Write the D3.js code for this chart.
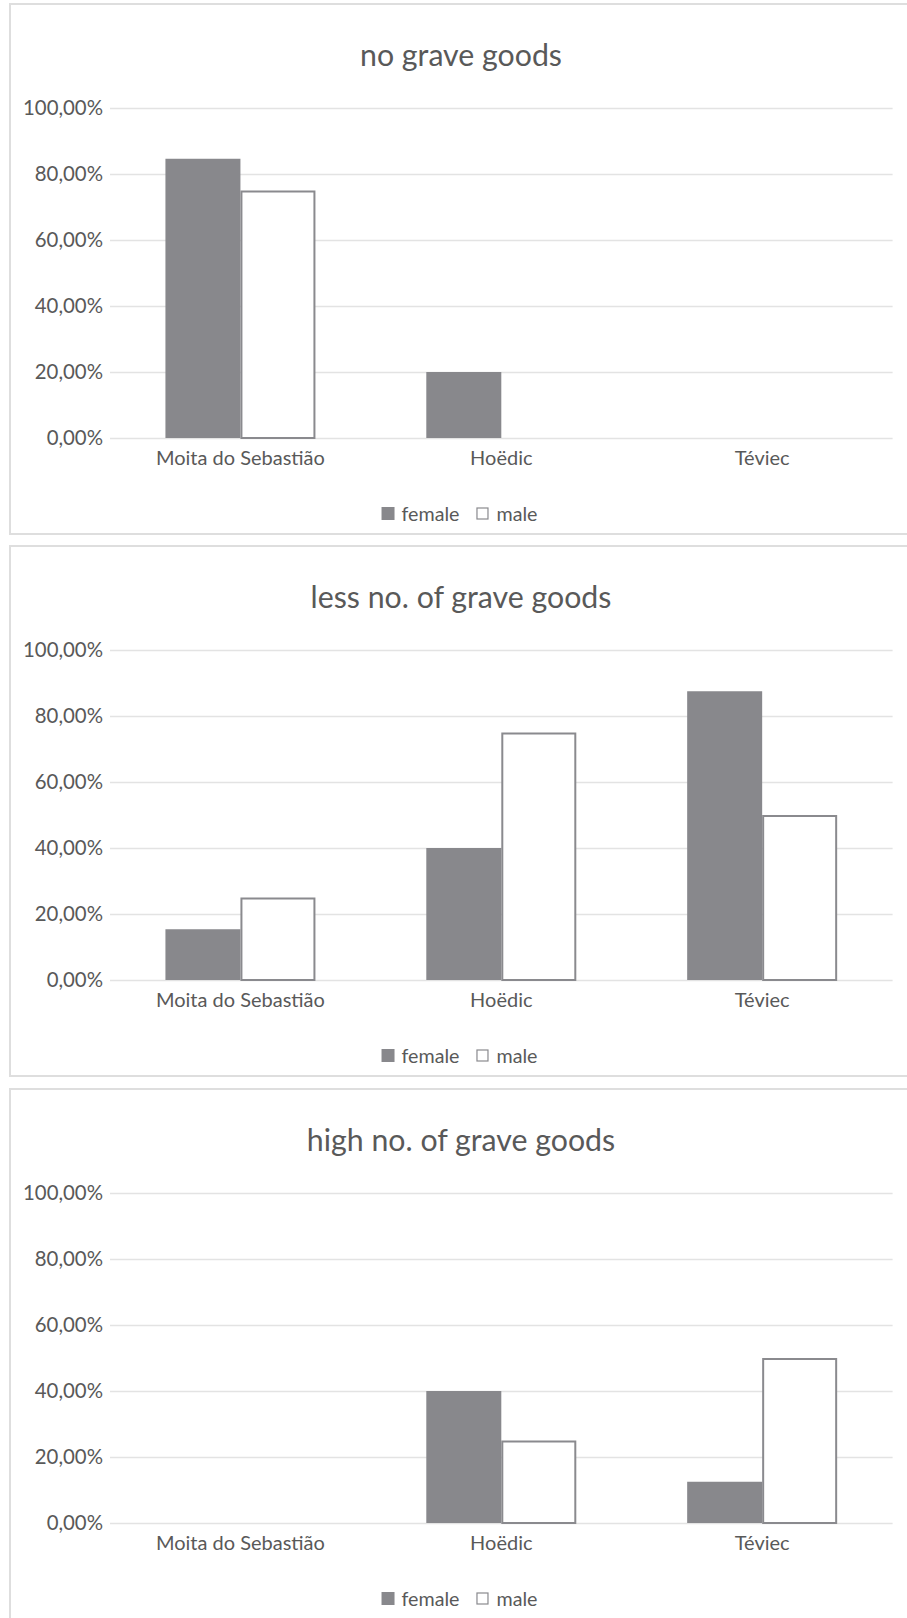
<!DOCTYPE html>
<html>
<head>
<meta charset="utf-8">
<script src="https://cdn.jsdelivr.net/npm/d3@7"></script>
<style>
  html, body { margin: 0; padding: 0; background: #fff; }
  svg { display: block; }
  text { font-family: Lato, "Open Sans", sans-serif; fill: #595959; }
</style>
</head>
<body>
<svg id="chart" width="907" height="1618"></svg>
<script>
// ---- data ----
const categories = ["Moita do Sebastião", "Hoëdic", "Téviec"];
const seriesNames = ["female", "male"];
const panelTitles = ["no grave goods", "less no. of grave goods", "high no. of grave goods"];
const femaleValues = [
  [84.62, 20, 0],
  [15.38, 40, 87.5],
  [0, 40, 12.5]
];
const maleValues = [
  [75, 0, 0],
  [25, 75, 50],
  [0, 25, 50]
];
const yTicks = [0, 20, 40, 60, 80, 100];

// ---- style / layout ----
const femaleFill = "#88888c";
const maleStroke = "#8a8a8e";
const gridColor = "#e3e3e3";
const panelTops = [4, 546, 1089];
const panelH = 530;
const plotLeft = 110, plotRight = 892.6;

const svg = d3.select("#chart");

// measure helper to size fonts by target widths
const meas = svg.append("text").attr("x", -1000).attr("y", -1000);
function fitSize(str, target, base = 20) {
  meas.attr("font-size", base).text(str);
  const w = meas.node().getComputedTextLength();
  return base * target / w;
}
const titleSize = fitSize("no grave goods", 202);
const tickSize = fitSize("100,00%", 80);
const catSize = fitSize("Moita do Sebastião", 169);
const legSize = fitSize("female", 58);
meas.remove();

const x0 = d3.scaleBand().domain(categories).range([plotLeft, plotRight])
  .paddingInner(0.425).paddingOuter(0.2125);
const x1 = d3.scaleBand().domain(seriesNames).range([0, x0.bandwidth()]);
const fmt = v => v.toFixed(2).replace(".", ",") + "%";

panelTitles.forEach((title, i) => {
  const top = panelTops[i];
  const g = svg.append("g");
  // panel border
  g.append("rect").attr("x", 10).attr("y", top).attr("width", 905).attr("height", panelH)
    .attr("fill", "#fff").attr("stroke", "#dedede").attr("stroke-width", 2);

  // title
  g.append("text").attr("x", 461).attr("y", top + 49.5)
    .attr("text-anchor", "middle").attr("dominant-baseline", "central")
    .attr("font-size", titleSize).text(title);

  const y = d3.scaleLinear().domain([0, 100]).range([top + 434, top + 104]);

  // y axis
  const yAxis = d3.axisLeft(y).tickValues(yTicks).tickFormat(fmt)
    .tickSize(-(plotRight - plotLeft)).tickPadding(7);
  const ya = g.append("g").attr("transform", `translate(${plotLeft},0)`).call(yAxis);
  ya.select(".domain").remove();
  ya.selectAll(".tick line").attr("stroke", gridColor).attr("stroke-width", 1.5);
  ya.selectAll(".tick text").attr("font-size", tickSize).attr("fill", "#595959")
    .attr("font-family", "Lato, 'Open Sans', sans-serif");

  // x axis labels
  const xAxis = d3.axisBottom(x0).tickSize(0).tickPadding(0);
  const xa = g.append("g").attr("transform", `translate(0,${top + 434})`).call(xAxis);
  xa.select(".domain").remove();
  xa.selectAll(".tick text").attr("dy", null).attr("y", 18.5)
    .attr("dominant-baseline", "central")
    .attr("font-size", catSize).attr("fill", "#595959")
    .attr("font-family", "Lato, 'Open Sans', sans-serif");

  // bars
  const rows = categories.map((c, j) => ({ cat: c, female: femaleValues[i][j], male: maleValues[i][j] }));
  rows.forEach(r => {
    if (r.female > 0) {
      g.append("rect")
        .attr("x", x0(r.cat) + x1("female"))
        .attr("y", y(r.female))
        .attr("width", x1.bandwidth())
        .attr("height", y(0) - y(r.female))
        .attr("fill", femaleFill);
    }
    if (r.male > 0) {
      g.append("rect")
        .attr("x", x0(r.cat) + x1("male") + 1)
        .attr("y", y(r.male) + 1)
        .attr("width", x1.bandwidth() - 2)
        .attr("height", y(0) - y(r.male) - 1)
        .attr("fill", "#fff").attr("stroke", maleStroke).attr("stroke-width", 2);
    }
  });

  // legend
  const leg = g.append("g");
  let lx = 0;
  seriesNames.forEach((s, k) => {
    const item = leg.append("g").attr("transform", `translate(${lx},0)`);
    if (s === "female") {
      item.append("rect").attr("x", 0).attr("y", -6.5).attr("width", 13).attr("height", 13)
        .attr("fill", femaleFill);
    } else {
      item.append("rect").attr("x", 0.5).attr("y", -5.5).attr("width", 11).attr("height", 11)
        .attr("fill", "#fff").attr("stroke", maleStroke).attr("stroke-width", 1.2);
    }
    const t = item.append("text").attr("x", 20).attr("y", 0)
      .attr("dominant-baseline", "central").attr("font-size", legSize).text(s);
    lx += 20 + t.node().getComputedTextLength() + 17;
  });
  const lw = lx - 17;
  leg.attr("transform", `translate(${459.5 - lw / 2},${top + 509.5})`);
});
</script>
</body>
</html>
